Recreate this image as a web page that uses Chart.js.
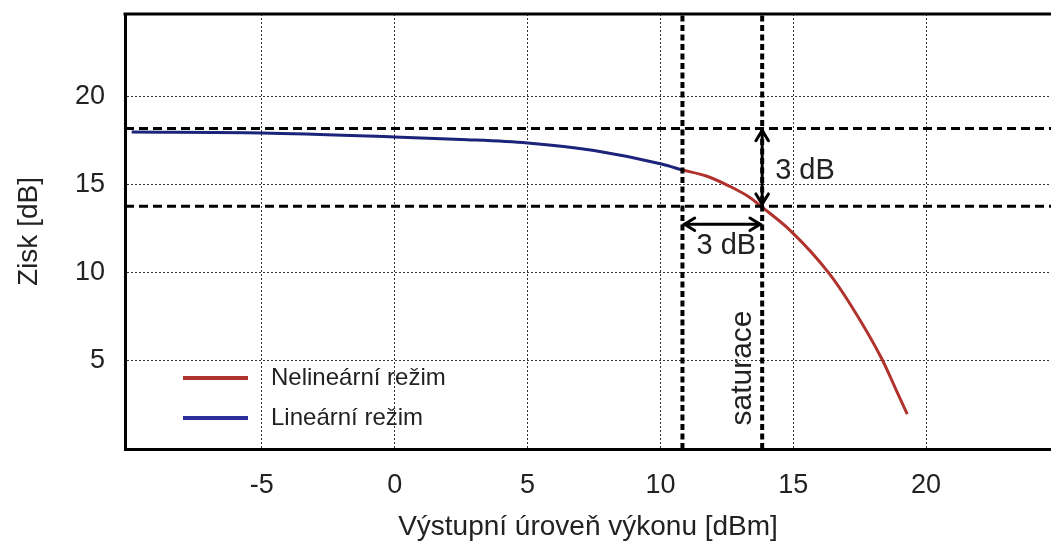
<!DOCTYPE html>
<html>
<head>
<meta charset="utf-8">
<script src="https://cdn.jsdelivr.net/npm/chart.js@4.4.1/dist/chart.umd.min.js"></script>
<style>
  html, body { margin: 0; padding: 0; background: #fff; }
  #wrap { width: 1051px; height: 549px; }
</style>
</head>
<body>
<div id="wrap"><canvas id="gain" width="1051" height="549"></canvas></div>
<script>
// values
const linearPower = [-9.9, -5, 0, 2.5, 5, 7.5, 10.04, 10.83];
const linearGain = [18.0, 17.95, 17.72, 17.58, 17.38, 16.95, 16.18, 15.84];
const nonlinearPower = [10.83, 11.73, 12.59, 13.35, 13.83, 14.92, 16.32, 17.11, 18.35, 18.87, 19.29];
const nonlinearGain = [15.84, 15.5, 14.93, 14.3, 13.73, 12.36, 10.03, 8.3, 5.07, 3.36, 1.98];
const xTicks = [-5, 0, 5, 10, 15, 20];
const yTicks = [5, 10, 15, 20];
const refGain = [18.2, 13.79];    // horizontal dashed lines
const refPower = [10.83, 13.83];  // vertical dashed lines
const arrowGain = 12.76;          // horizontal 3 dB arrow
const xRange = [-10.15, 24.7];
const yRange = [0, 24.7];

const FONT = 'Liberation Sans, Arial, sans-serif';
const RED = '#b0322c';
const BLUE = '#1c237a';

const pts = (xs, ys) => xs.map((v, i) => ({ x: v, y: ys[i] }));

function arrowHead(ctx, x, y, ang) {
  const len = 12, spread = 0.55;
  ctx.beginPath();
  ctx.moveTo(x - len * Math.cos(ang - spread), y - len * Math.sin(ang - spread));
  ctx.lineTo(x, y);
  ctx.lineTo(x - len * Math.cos(ang + spread), y - len * Math.sin(ang + spread));
  ctx.stroke();
}

function doubleArrow(ctx, x1, y1, x2, y2) {
  ctx.beginPath();
  ctx.moveTo(x1, y1);
  ctx.lineTo(x2, y2);
  ctx.stroke();
  const ang = Math.atan2(y2 - y1, x2 - x1);
  arrowHead(ctx, x2, y2, ang);
  arrowHead(ctx, x1, y1, ang + Math.PI);
}

const annotate = {
  id: 'annotate',
  afterDatasetsDraw(chart) {
    const { ctx, chartArea: a, scales: { x, y } } = chart;
    ctx.save();
    // top frame
    ctx.strokeStyle = '#000';
    ctx.lineWidth = 3;
    ctx.beginPath();
    ctx.moveTo(a.left - 1.5, a.top);
    ctx.lineTo(a.right, a.top);
    ctx.stroke();

    // 3 dB arrows
    const sx = x.getPixelForValue(refPower[1]);
    const lx = x.getPixelForValue(refPower[0]);
    const gTop = y.getPixelForValue(refGain[0]);
    const gBot = y.getPixelForValue(refGain[1]);
    const ay = y.getPixelForValue(arrowGain);
    ctx.lineWidth = 3;
    ctx.lineCap = 'round';
    doubleArrow(ctx, sx, gTop + 2, sx, gBot - 2);
    doubleArrow(ctx, lx + 2, ay, sx - 2, ay);

    ctx.fillStyle = '#222';
    ctx.font = '29px ' + FONT;
    ctx.textBaseline = 'middle';
    ctx.textAlign = 'left';
    ctx.fillText('3 dB', sx + 13, (gTop + gBot) / 2 + 4);
    ctx.textAlign = 'center';
    ctx.fillText('3 dB', (lx + sx) / 2 + 4, ay + 22);

    // saturace
    ctx.save();
    ctx.font = '30px ' + FONT;
    ctx.translate(sx - 19, y.getPixelForValue(4.6));
    ctx.rotate(-Math.PI / 2);
    ctx.fillText('saturace', 0, 0);
    ctx.restore();

    // legend inside the plot
    const items = [['Nelineární režim', RED], ['Lineární režim', '#2a2f9a']];
    ctx.font = '24px ' + FONT;
    ctx.textAlign = 'left';
    items.forEach(([label, col], i) => {
      const ly = a.bottom - 71 + i * 40;
      ctx.strokeStyle = col;
      ctx.lineWidth = 4;
      ctx.lineCap = 'butt';
      ctx.beginPath();
      ctx.moveTo(a.left + 58, ly);
      ctx.lineTo(a.left + 123, ly);
      ctx.stroke();
      ctx.fillStyle = '#222';
      ctx.fillText(label, a.left + 146, ly);
    });
    ctx.restore();
  }
};

const dashedH = refGain.map(g => ({
  data: pts(xRange, [g, g]),
  borderColor: '#000', borderWidth: 3, borderDash: [9, 5], order: 0
}));
const dashedV = refPower.map(p => ({
  data: pts([p, p], yRange),
  borderColor: '#000', borderWidth: 4, borderDash: [6, 3.5], order: 0
}));

new Chart(document.getElementById('gain'), {
  type: 'line',
  data: {
    datasets: [
      { label: 'Nelineární režim', data: pts(nonlinearPower, nonlinearGain),
        borderColor: RED, borderWidth: 3, cubicInterpolationMode: 'monotone', order: 1 },
      { label: 'Lineární režim', data: pts(linearPower, linearGain),
        borderColor: BLUE, borderWidth: 3, cubicInterpolationMode: 'monotone', order: 1 },
      ...dashedH,
      ...dashedV
    ]
  },
  options: {
    responsive: false,
    animation: false,
    layout: { padding: { top: 14, right: 0, left: 0, bottom: 0 } },
    elements: { point: { radius: 0 } },
    plugins: { legend: { display: false }, tooltip: { enabled: false } },
    scales: {
      x: {
        type: 'linear', min: xRange[0], max: xRange[1],
        afterFit(s) { s.height = 100; s.paddingLeft = 0; s.paddingRight = 0; },
        afterBuildTicks(s) { s.ticks = xTicks.map(v => ({ value: v })); },
        grid: { color: '#333', lineWidth: 1, drawTicks: false },
        border: { display: true, width: 3, color: '#000', dash: [2, 2] },
        ticks: { padding: 20, color: '#222', font: { family: FONT, size: 27 } },
        title: { display: true, text: 'Výstupní úroveň výkonu [dBm]', color: '#222',
                 font: { family: FONT, size: 28 }, padding: { top: 0, bottom: 5 } }
      },
      y: {
        type: 'linear', min: yRange[0], max: yRange[1],
        afterFit(s) { s.width = 125; s.paddingTop = 0; s.paddingBottom = 0; },
        afterBuildTicks(s) { s.ticks = yTicks.map(v => ({ value: v })); },
        grid: { color: '#333', lineWidth: 1, drawTicks: false },
        border: { display: true, width: 3, color: '#000', dash: [2, 2] },
        ticks: { padding: 20, color: '#222', font: { family: FONT, size: 27 } },
        title: { display: true, text: 'Zisk [dB]', color: '#222',
                 font: { family: FONT, size: 28 }, padding: { top: 12, bottom: 0 } }
      }
    }
  },
  plugins: [annotate]
});
</script>
</body>
</html>
